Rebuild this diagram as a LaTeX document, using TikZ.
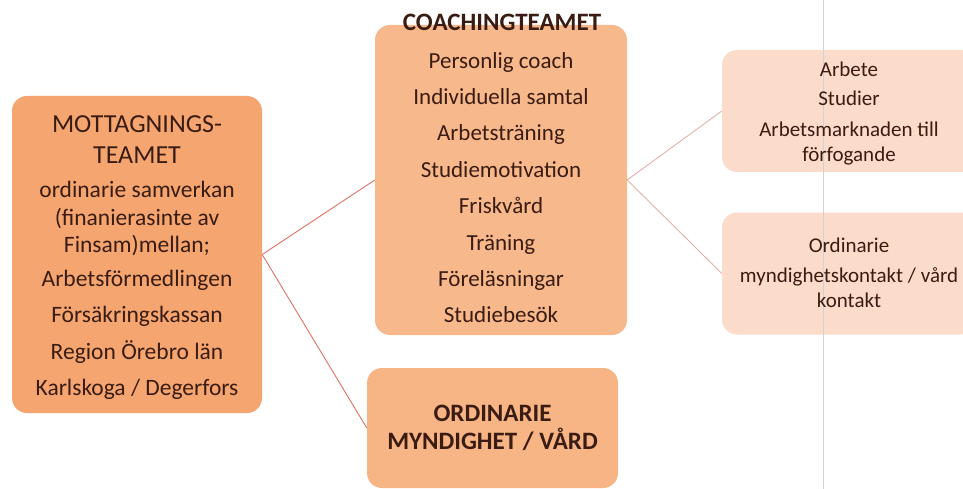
\documentclass[tikz,border=0pt]{standalone}
\usepackage{fontspec}
\setmainfont{Carlito}
\usepackage{tikz}
\usetikzlibrary{positioning}
\definecolor{mottfill}{RGB}{245,166,112}
\definecolor{coachfill}{RGB}{247,184,140}
\definecolor{ordfill}{RGB}{247,180,132}
\definecolor{resfill}{RGB}{251,219,201}
\definecolor{boxtext}{RGB}{58,28,18}
\definecolor{linkred}{RGB}{222,112,100}
\definecolor{linkpale}{RGB}{228,176,172}
\newcommand{\titlesize}{\fontsize{26}{30}\selectfont}

\begin{document}
\begin{tikzpicture}[x=1pt,y=-1pt]
	\tikzstyle{team}=[rounded corners=15pt,inner sep=0pt,text=boxtext,align=center]
	\tikzstyle{main team}=[team,fill=mottfill,minimum width=250pt,minimum height=317pt]
	\tikzstyle{coach team}=[team,fill=coachfill,minimum width=252pt,minimum height=310pt]
	\tikzstyle{ord team}=[team,fill=ordfill,minimum width=251pt,minimum height=120pt]
	\tikzstyle{result}=[team,fill=resfill,minimum width=254pt,minimum height=122pt]
	\tikzstyle{annot}=[inner sep=0pt,text=boxtext,align=center]
	\tikzstyle{link}=[line width=0.9pt]

	\useasboundingbox (0,0) rectangle (963,489);
	\clip (0,0) rectangle (963,489);

	% Draw the team boxes
	\node[main team] (mott) at (137,254.5) {};
	\node[coach team] (coach) at (501,180) {};
	\node[ord team,font=\fontsize{25}{28.5}\selectfont\bfseries] (ord) at (492.5,428)
	{ORDINARIE\\MYNDIGHET / VÅRD};

	% Draw the outcome boxes
	\node[result] (work) at (849,111) {};
	\node[result] (contact) at (849,273.5) {};

	% Scan stripe on the right
	\draw[gray!35,line width=0.6pt] (823,0) -- (823,489);

	% Connect the teams
	\draw[link,linkred] (mott.east) -- (coach.west);
	\draw[link,linkred] (mott.east) -- (ord.west);
	\draw[link,linkpale] (coach.east) -- (work.west);
	\draw[link,linkpale] (coach.east) -- (contact.west);

	% Box texts
	\node[annot,font=\fontsize{23.5}{27.5}\selectfont] (motttext) at ([yshift=-3pt]mott.center)
	{\titlesize MOTTAGNINGS-\\[3.5pt]\titlesize TEAMET\\[7pt]
	ordinarie samverkan\\(finanierasinte av\\Finsam)mellan;\\[6pt]
	Arbetsförmedlingen\\[9pt]Försäkringskassan\\[9pt]Region Örebro län\\[9pt]Karlskoga / Degerfors};
	\node[annot,font=\fontsize{25}{30}\selectfont\bfseries] (coachtitle) at (502,22) {COACHINGTEAMET};
	\node[annot,font=\fontsize{23}{27.6}\selectfont] (coachtext) at ([yshift=-7.5pt]coach.center)
	{Personlig coach\\[8.8pt]Individuella samtal\\[8.8pt]Arbetsträning\\[8.8pt]
	Studiemotivation\\[8.8pt]Friskvård\\[8.8pt]Träning\\[8.8pt]Föreläsningar\\[8.8pt]Studiebesök};
	\node[annot,font=\fontsize{21}{25}\selectfont] (worktext) at ([yshift=-2.5pt]work.center)
	{Arbete\\[4pt]Studier\\[6pt]Arbetsmarknaden till\\förfogande};
	\node[annot,font=\fontsize{21}{25}\selectfont] (contacttext) at ([yshift=1pt]contact.center)
	{Ordinarie\\[5pt]myndighetskontakt / vård\\kontakt};
\end{tikzpicture}
\end{document}
